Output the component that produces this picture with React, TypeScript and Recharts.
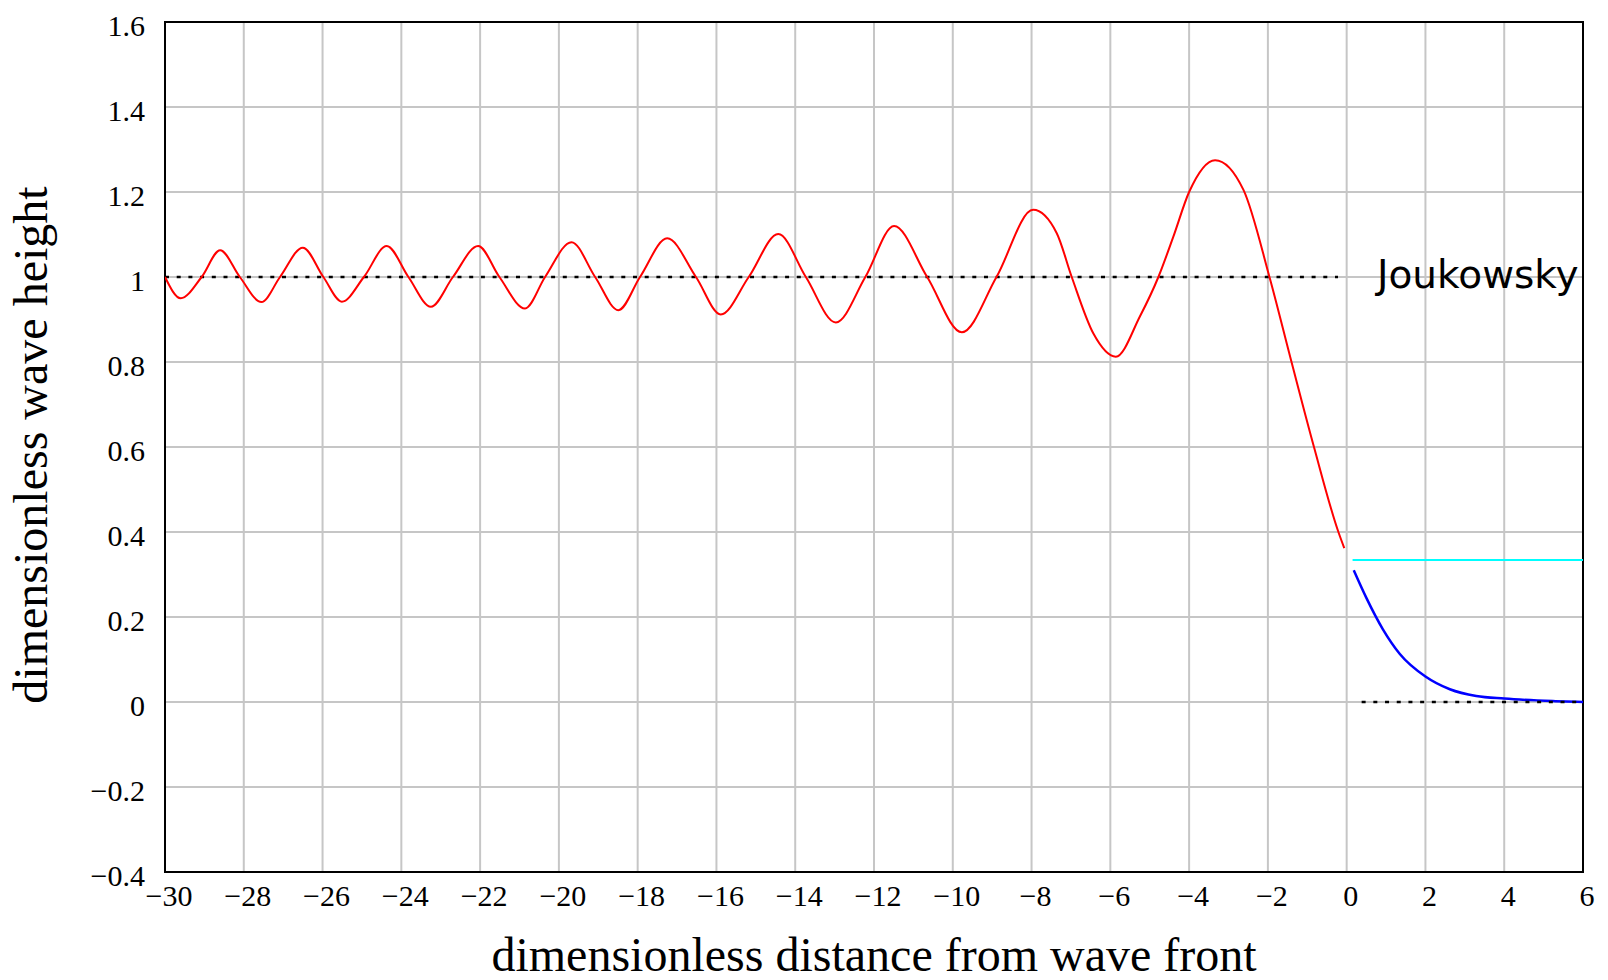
import {
  LineChart,
  Line,
  XAxis,
  YAxis,
  CartesianGrid,
  ReferenceArea,
  ReferenceDot,
  Label,
} from "recharts";

const xTicks = [-30, -28, -26, -24, -22, -20, -18, -16, -14, -12, -10, -8, -6, -4, -2, 0, 2, 4, 6];
const yTicks = [-0.4, -0.2, 0, 0.2, 0.4, 0.6, 0.8, 1, 1.2, 1.4, 1.6];

// red: wave height behind the front
const redX = [
  -30, -29.6, -29.07, -28.6, -28.1, -27.55, -27.08, -26.5, -25.98, -25.51, -24.95, -24.37,
  -23.82, -23.25, -22.69, -22.05, -21.51, -20.86, -20.35, -19.68, -19.08, -18.49, -17.94,
  -17.25, -16.52, -15.89, -15.18, -14.43, -13.73, -12.97, -12.22, -11.49, -10.65, -9.77,
  -8.89, -7.96, -7.36, -6.98, -6.43, -5.86, -5.25, -4.78, -4.4, -4.0, -3.34, -2.62, -1.96,
  -1.4, -0.83, -0.21, -0.06,
];
const redY = [
  1.0, 0.95, 1.0, 1.063, 1.0, 0.941, 1.0, 1.069, 1.0, 0.942, 1.0, 1.073,
  1.0, 0.93, 1.0, 1.073, 1.0, 0.926, 1.0, 1.082, 1.0, 0.922, 1.0,
  1.091, 1.0, 0.912, 1.0, 1.101, 1.0, 0.893, 1.0, 1.12, 1.0, 0.87,
  1.0, 1.158, 1.103, 1.0, 0.867, 0.8125, 0.907, 1.0, 1.095, 1.2, 1.275, 1.205, 1.0,
  0.8, 0.6, 0.4, 0.362,
];

// blue: decay ahead of the front
const blueX = [0.18, 0.5, 0.92, 1.35, 2.0, 2.62, 3.29, 4.0, 5.3, 6];
const blueY = [0.31, 0.245, 0.171, 0.113, 0.06, 0.03, 0.014, 0.008, 0.002, 0];

const cyanX = [0.15, 6];
const cyanY = [0.334, 0.334];

const joukX = [-30, -0.22];
const joukY = [1, 1];

const zeroX = [0.38, 6];
const zeroY = [0, 0];

const pts = (xs: number[], ys: number[]) => xs.map((x, i) => ({ x, y: ys[i] }));

const serif = '"Liberation Serif", "Times New Roman", serif';
const minus = (v: number) => String(v).replace("-", "\u2212");

const XTick = ({ x, y, payload }: any) => (
  <text x={x + 4} y={y + 21} textAnchor="middle" fontSize={30} fontFamily={serif} fill="#000">
    {minus(payload.value)}
  </text>
);

const YTick = ({ x, y, payload }: any) => (
  <text x={x} y={y + 13.5} textAnchor="end" fontSize={30} fontFamily={serif} fill="#000">
    {minus(payload.value)}
  </text>
);

export default function App() {
  return (
    <div style={{ position: "absolute", left: 0, top: 0, background: "#fff" }}>
      <LineChart width={1608} height={980} margin={{ top: 22, right: 25, bottom: 0, left: 0 }}>
        <CartesianGrid stroke="#c6c6c6" strokeWidth={2} />
        <XAxis
          dataKey="x"
          type="number"
          domain={[-30, 6]}
          ticks={xTicks}
          allowDataOverflow
          height={108}
          axisLine={false}
          tickLine={false}
          tickSize={0}
          tickMargin={13}
          tick={<XTick />}
        >
          <Label
            content={({ viewBox }: any) => (
              <text
                x={viewBox.x + viewBox.width / 2}
                y={viewBox.y + viewBox.height - 9}
                textAnchor="middle"
                fontSize={48}
                fontFamily={serif}
                fill="#000"
              >
                dimensionless distance from wave front
              </text>
            )}
          />
        </XAxis>
        <YAxis
          type="number"
          domain={[-0.4, 1.6]}
          ticks={yTicks}
          allowDataOverflow
          width={165}
          axisLine={false}
          tickLine={false}
          tickSize={0}
          tickMargin={20}
          tick={<YTick />}
        >
          <Label
            content={({ viewBox }: any) => (
              <text
                transform={`translate(47, ${viewBox.y + viewBox.height / 2 - 2}) rotate(-90)`}
                textAnchor="middle"
                fontSize={48}
                fontFamily={serif}
                fill="#000"
              >
                dimensionless wave height
              </text>
            )}
          />
        </YAxis>
        <ReferenceArea x1={-30} x2={6} y1={-0.4} y2={1.6} fill="none" stroke="#000" strokeWidth={2} fillOpacity={0} />
        <Line
          data={pts(joukX, joukY)}
          dataKey="y"
          type="linear"
          stroke="#000"
          strokeWidth={2.5}
          strokeDasharray="4 7.7"
          dot={false}
          isAnimationActive={false}
        />
        <Line
          data={pts(redX, redY)}
          dataKey="y"
          type="monotone"
          stroke="#ff0000"
          strokeWidth={2}
          dot={false}
          isAnimationActive={false}
        />
        <Line
          data={pts(cyanX, cyanY)}
          dataKey="y"
          type="linear"
          stroke="#00ffff"
          strokeWidth={2}
          dot={false}
          isAnimationActive={false}
        />
        <Line
          data={pts(blueX, blueY)}
          dataKey="y"
          type="monotone"
          stroke="#0000ff"
          strokeWidth={2.5}
          dot={false}
          isAnimationActive={false}
        />
        <Line
          data={pts(zeroX, zeroY)}
          dataKey="y"
          type="linear"
          stroke="#000"
          strokeWidth={2.5}
          strokeDasharray="4 7.7"
          dot={false}
          isAnimationActive={false}
        />
        <ReferenceDot
          x={3.33}
          y={1}
          r={0}
          fill="none"
          stroke="none"
          label={{
            value: "Joukowsky",
            position: "center",
            fontSize: 39,
            fill: "#000",
            fontFamily: '"DejaVu Sans", Verdana, sans-serif',
            dy: -3,
          }}
        />
      </LineChart>
    </div>
  );
}
